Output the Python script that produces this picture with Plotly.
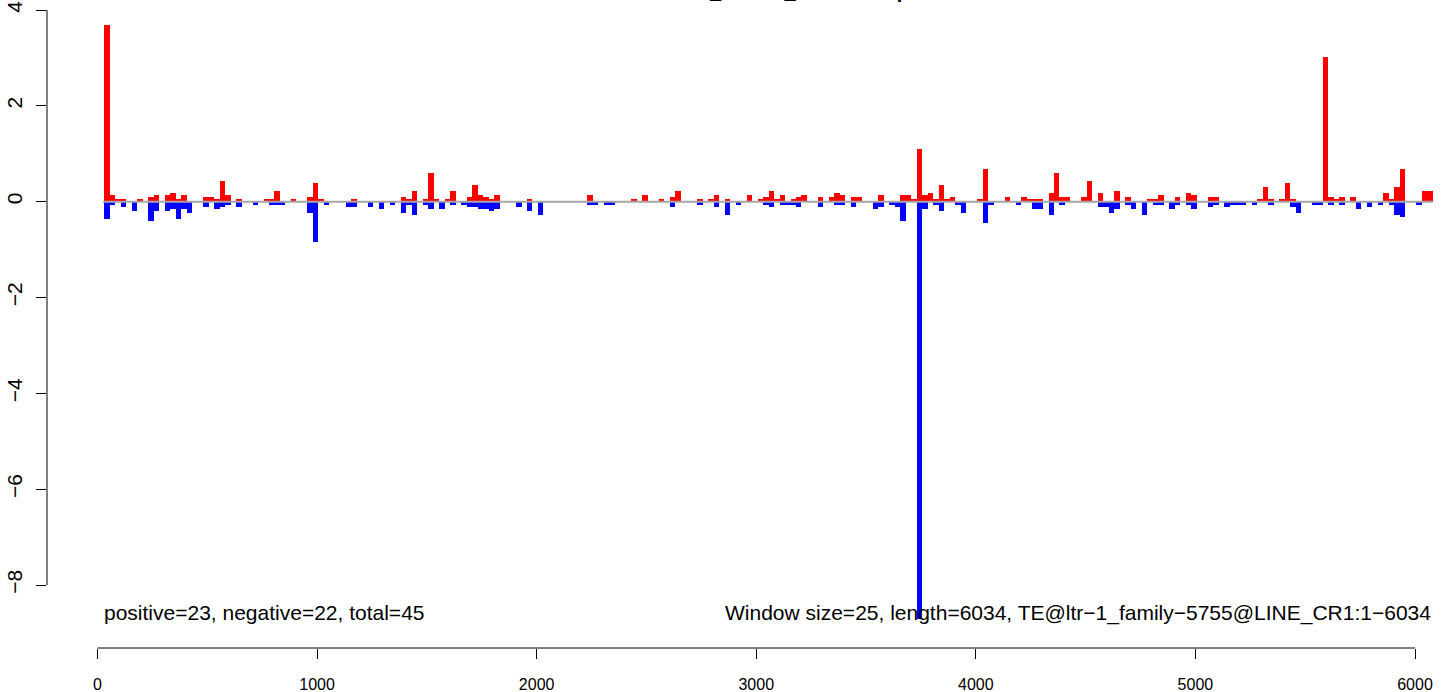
import plotly.graph_objects as go

# ---- data ----
window_size = 25
seq_length = 6034
x_tick_vals = [0, 1000, 2000, 3000, 4000, 5000, 6000]
y_tick_vals = [-8, -6, -4, -2, 0, 2, 4]

red_windows = [0, 1, 2, 3, 6, 8, 9, 11, 12, 13, 14, 18, 19, 20, 21, 22, 24, 29, 30, 31, 34, 37, 38, 39, 45,
               54, 55, 56, 58, 59, 60, 62, 63, 66, 67, 68, 69, 70, 71, 77,
               88, 96, 98, 101, 103, 104, 108, 110, 111, 113, 117, 119, 120, 121, 122, 123, 125, 126, 127, 130,
               132, 133, 134, 136, 137, 141, 145, 146, 147, 148, 149, 150, 151, 152, 153, 154, 159, 160,
               164, 167, 168, 169, 170, 172, 173, 174, 175, 178, 179, 181, 184, 186, 190, 191, 192, 195, 197,
               198, 201, 202, 210, 211, 212, 214, 215, 216, 222, 223, 224, 225, 227, 233, 234, 235, 236, 240, 241]
red_values = [3.69, 0.14, 0.056, 0.056, 0.056, 0.097, 0.14, 0.14, 0.18, 0.056, 0.14, 0.097, 0.097, 0.056, 0.43,
              0.14, 0.056, 0.056, 0.056, 0.22, 0.056, 0.097, 0.39, 0.056, 0.056,
              0.097, 0.056, 0.22, 0.056, 0.6, 0.056, 0.056, 0.22, 0.097, 0.35, 0.14, 0.097, 0.056, 0.14, 0.056,
              0.14, 0.056, 0.14, 0.056, 0.097, 0.22, 0.056, 0.056, 0.14, 0.056, 0.14, 0.056, 0.097, 0.22, 0.056,
              0.14, 0.056, 0.097, 0.14, 0.097,
              0.097, 0.18, 0.14, 0.097, 0.097, 0.14, 0.14, 0.14, 0.056, 1.1, 0.14, 0.18, 0.056, 0.35, 0.056,
              0.097, 0.056, 0.68,
              0.097, 0.097, 0.056, 0.056, 0.056, 0.18, 0.6, 0.097, 0.097, 0.097, 0.43, 0.18, 0.22, 0.097, 0.056,
              0.056, 0.14, 0.097, 0.18,
              0.14, 0.097, 0.097, 0.056, 0.31, 0.056, 0.056, 0.39, 0.056, 3.02, 0.097, 0.056, 0.097, 0.097,
              0.18, 0.056, 0.31, 0.68, 0.22, 0.22]

blue_windows = [0, 1, 3, 5, 8, 9, 11, 12, 13, 14, 15, 18, 20, 21, 22, 24, 27, 30, 31, 32, 37, 38, 40, 44, 45,
                48, 50, 52, 54, 55, 56, 58, 59, 61, 63, 65, 66, 67, 68, 69, 70, 71, 75, 77, 79,
                88, 89, 91, 92, 103, 108, 111, 113, 115, 120, 121, 123, 124, 125, 126, 130, 133, 134, 136, 140,
                141, 143, 144, 145, 148, 149, 151, 152, 155, 156, 160, 161,
                166, 169, 170, 172, 174, 181, 182, 183, 184, 186, 187, 189, 191, 192, 194, 195, 197, 198, 201,
                202, 204, 205, 206, 207, 209, 212, 216, 217, 220, 221, 223, 225, 228, 230, 232, 234, 235, 236, 239]
blue_values = [-0.36, -0.07, -0.11, -0.19, -0.4, -0.19, -0.19, -0.15, -0.36, -0.15, -0.24, -0.11, -0.15, -0.11,
               -0.07, -0.11, -0.07, -0.07, -0.07, -0.07, -0.24, -0.85, -0.07, -0.11, -0.11,
               -0.11, -0.15, -0.07, -0.24, -0.07, -0.28, -0.07, -0.15, -0.15, -0.07, -0.07, -0.11, -0.11, -0.15,
               -0.15, -0.19, -0.15, -0.11, -0.19, -0.28,
               -0.07, -0.07, -0.07, -0.07, -0.11, -0.07, -0.11, -0.28, -0.07, -0.07, -0.11, -0.07, -0.07, -0.07,
               -0.11, -0.11, -0.07, -0.07, -0.11, -0.15,
               -0.11, -0.07, -0.11, -0.4, -8.7, -0.15, -0.07, -0.19, -0.07, -0.24, -0.44, -0.07,
               -0.07, -0.15, -0.15, -0.28, -0.07, -0.11, -0.11, -0.24, -0.15, -0.07, -0.15, -0.28, -0.07, -0.07,
               -0.15, -0.07, -0.07, -0.15, -0.11,
               -0.07, -0.11, -0.07, -0.07, -0.07, -0.07, -0.07, -0.11, -0.24, -0.07, -0.07, -0.07, -0.07, -0.15,
               -0.11, -0.07, -0.07, -0.28, -0.32, -0.07]

title_text = "Control Testis_Strand_Antisense piRNA"
left_note = "positive=23, negative=22, total=45"
right_note = "Window size=25, length=6034, TE@ltr\u22121_family\u22125755@LINE_CR1:1\u22126034"

# ---- geometry (pixel calibration of the reference) ----
W, H = 1441, 692
ML, MR, MT, MB = 47, 5, 0, 44
px_per_unit_x = (1415.0 - 97.5) / 6000.0
x0_px = 97.5
x_lo = (ML - x0_px) / px_per_unit_x
x_hi = (W - MR - x0_px) / px_per_unit_x
py_per_unit = (585.0 - 10.0) / 12.0
y0_px = 10.0 + 4 * py_per_unit
y_hi = (y0_px - MT) / py_per_unit
y_lo = -((H - MB) - y0_px) / py_per_unit

bar_offset = 31  # bars sit slightly right of their window start in the reference
red_x = [window_size * k + bar_offset + window_size / 2 for k in red_windows]
blue_x = [window_size * k + bar_offset + window_size / 2 for k in blue_windows]

FONT = "Liberation Sans, Arial, Helvetica, sans-serif"

fig = go.Figure()
fig.add_trace(go.Bar(x=red_x, y=red_values, width=window_size, marker=dict(color="#FF0000", line=dict(width=0)),
                     showlegend=False, hoverinfo="x+y"))
fig.add_trace(go.Bar(x=blue_x, y=blue_values, width=window_size, marker=dict(color="#0000FF", line=dict(width=0)),
                     showlegend=False, hoverinfo="x+y"))

# zero line over bars
fig.add_shape(type="line", x0=26, x1=6081, y0=0, y1=0, xref="x", yref="y",
              line=dict(color="#A6A6A6", width=2), layer="above")
# axis lines (R style: only between extreme ticks)
fig.add_shape(type="line", x0=0, x1=6000, y0=0, y1=0, xref="x", yref="paper",
              line=dict(color="black", width=1), layer="above")
fig.add_shape(type="line", x0=0, x1=0, y0=-8, y1=4, xref="paper", yref="y",
              line=dict(color="black", width=1), layer="above")

fig.add_annotation(x=22, y=-8.58, xref="x", yref="y", text=left_note, showarrow=False,
                   xanchor="left", yanchor="middle", font=dict(family=FONT, size=21, color="black"))
fig.add_annotation(x=6080, y=-8.58, xref="x", yref="y", text=right_note, showarrow=False,
                   xanchor="right", yanchor="middle", font=dict(family=FONT, size=21, color="black"))
fig.add_annotation(x=0.519, y=1.0, xref="paper", yref="paper", text="<b>" + title_text + "</b>", showarrow=False,
                   xanchor="center", yanchor="bottom", yshift=-4, font=dict(family=FONT, size=20, color="black"))

fig.update_layout(
    width=W, height=H,
    margin=dict(l=ML, r=MR, t=MT, b=MB, pad=0, autoexpand=False),
    paper_bgcolor="white", plot_bgcolor="white",
    barmode="overlay", bargap=0,
    font=dict(family=FONT, color="black"),
    xaxis=dict(range=[x_lo, x_hi], tickvals=x_tick_vals, ticks="outside", ticklen=10, tickwidth=1,
               tickcolor="black", showgrid=False, zeroline=False, showline=False, automargin=False,
               tickfont=dict(size=16, family=FONT), ticklabelstandoff=12),
    yaxis=dict(range=[y_lo, y_hi], tickvals=y_tick_vals, ticks="outside", ticklen=10, tickwidth=1,
               tickcolor="black", showgrid=False, zeroline=False, showline=False, tickangle=-90,
               automargin=False, tickfont=dict(size=21, family=FONT), ticklabelstandoff=6),
)

# the page should start at its top-left corner (no default body margin)
fig.write_html("out.html", config={"displayModeBar": False},
               post_script="document.body.style.margin='0px';document.body.style.overflow='hidden';")
